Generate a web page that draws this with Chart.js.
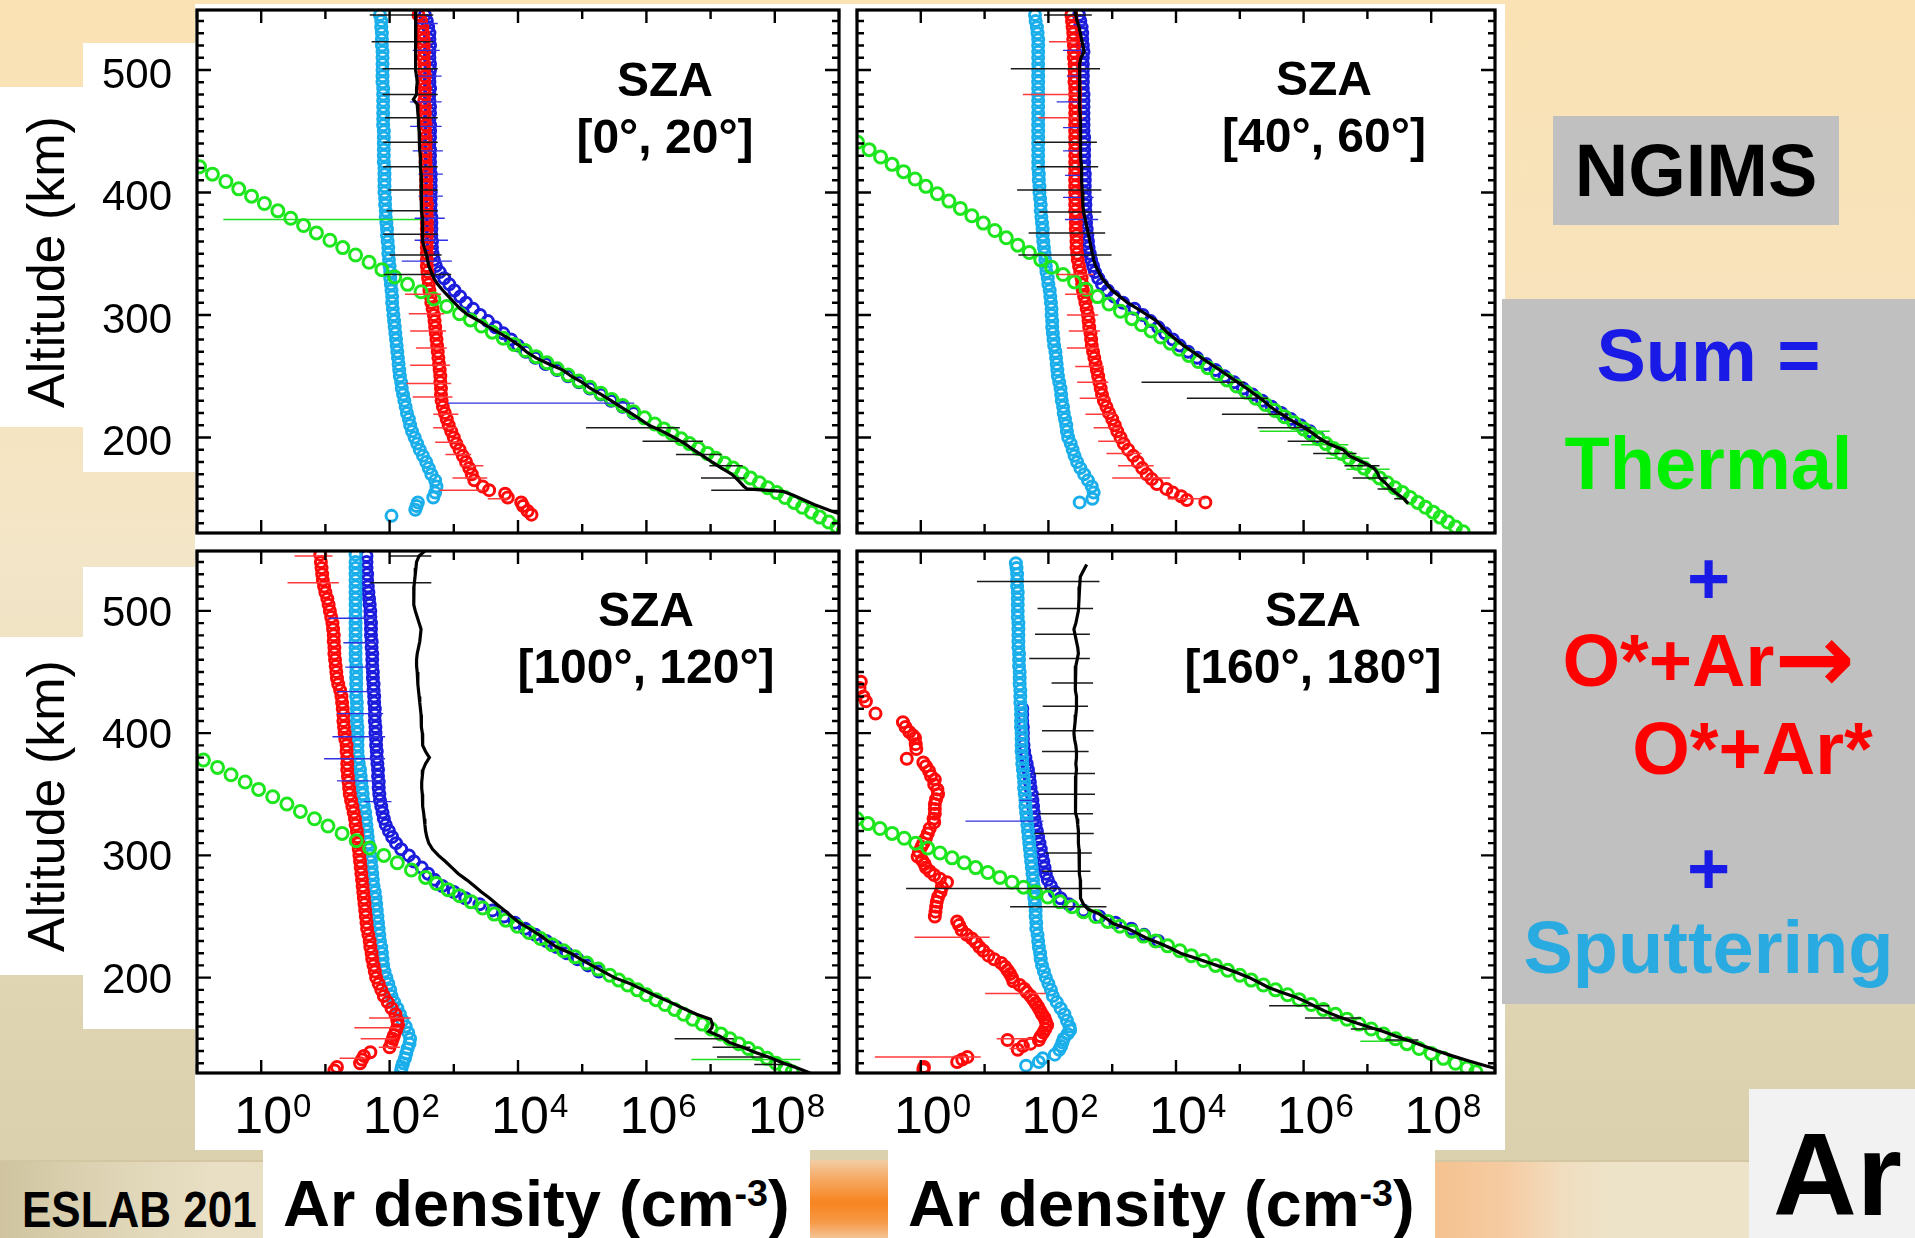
<!DOCTYPE html>
<html>
<head>
<meta charset="utf-8">
<script src="https://cdn.jsdelivr.net/npm/chart.js@4.4.1/dist/chart.umd.min.js"></script>
<style>
  body {
    margin: 0; width: 1915px; height: 1238px; overflow: hidden; position: relative;
    font-family: "Liberation Sans", Arial, sans-serif;
    background: linear-gradient(to bottom, #FAE2B4 0%, #F7E3BD 28%, #F3E6C8 45%, #EADFBF 62%, #DED4B2 82%, #D9CFAD 100%);
  }
  .box { position: absolute; }
  .white { background: #fff; }
  canvas { position: absolute; z-index: 2; }
  .txt { position: absolute; z-index: 3; white-space: nowrap; }
  .sza { width: 400px; text-align: center; font-weight: bold; font-size: 48px; line-height: 57px; color: #000; }
  .alt { width: 400px; height: 60px; line-height: 60px; text-align: center; font-size: 52px; transform: rotate(-90deg); }
  .leg { width: 413px; text-align: center; font-weight: bold; font-size: 74px; line-height: 80px; }
  .arrow { font-family: "DejaVu Sans", sans-serif; font-weight: bold; font-size: 96px; line-height: 0; vertical-align: -6px; }
  .dens { position: absolute; z-index: 4; background: #fff; width: 527px; height: 67px; padding: 21px 0 0 20px;
          white-space: nowrap; font-weight: bold; font-size: 65px; line-height: 65px; }
  .dens sup { font-size: 0.58em; vertical-align: 20px; line-height: 0; }
</style>
</head>
<body>

<!-- slide decoration -->
<div class="box" style="left:0;top:1160px;width:1749px;height:78px;background:linear-gradient(to right,#CFC49F 0%,#DCD2B2 5%,#E8DFC4 12%,#EADFC0 40%,#EEE4C8 80%,#ECE3C8 100%);border-top:2px solid #D2C7A2;"></div>
<div class="box" style="left:790px;top:1160px;width:120px;height:78px;background:linear-gradient(to bottom,#F2CDA5 0%,#F6A862 25%,#F7841F 55%,#F69A48 80%,#F3C497 100%);"></div>
<div class="box" style="left:1420px;top:1162px;width:190px;height:76px;background:linear-gradient(to right,#F4C08C 0%,#F6CBA2 45%,#F1DDBF 75%,rgba(236,227,200,0) 100%);"></div>
<div class="txt" style="left:22px;top:1185px;z-index:1;font-weight:bold;font-size:50px;line-height:50px;transform:scaleX(0.88);transform-origin:0 0;">ESLAB 201</div>

<div class="box white" style="left:195px;top:4px;width:1310px;height:1146px;"></div>
<div class="box white" style="left:83px;top:43px;width:116px;height:429px;"></div>
<div class="box white" style="left:0;top:87px;width:86px;height:340px;"></div>
<div class="box white" style="left:83px;top:567px;width:116px;height:462px;"></div>
<div class="box white" style="left:0;top:637px;width:86px;height:338px;"></div>
<div class="box" style="left:1553px;top:116px;width:286px;height:109px;background:#C0C0C0;"></div>
<div class="box" style="left:1502px;top:299px;width:413px;height:705px;background:#C0C0C0;"></div>
<div class="box" style="left:1749px;top:1089px;width:166px;height:149px;background:#F2F2F2;"></div>

<canvas id="p1" width="758" height="542" style="left:90px;top:0;"></canvas>
<canvas id="p2" width="656" height="542" style="left:848px;top:0;"></canvas>
<canvas id="p3" width="758" height="608" style="left:90px;top:542px;"></canvas>
<canvas id="p4" width="656" height="608" style="left:848px;top:542px;"></canvas>

<div class="txt alt" style="left:-154px;top:232px;">Altitude (km)</div>
<div class="txt alt" style="left:-154px;top:776px;">Altitude (km)</div>

<div class="txt sza" style="left:465px;top:51px;">SZA<br>[0°, 20°]</div>
<div class="txt sza" style="left:1124px;top:50px;">SZA<br>[40°, 60°]</div>
<div class="txt sza" style="left:446px;top:581px;">SZA<br>[100°, 120°]</div>
<div class="txt sza" style="left:1113px;top:581px;">SZA<br>[160°, 180°]</div>

<div class="txt" style="left:1553px;top:116px;width:286px;height:109px;line-height:109px;text-align:center;font-weight:bold;font-size:74px;">NGIMS</div>
<div class="txt leg" style="left:1502px;top:316px;color:#1A1AE6;">Sum =</div>
<div class="txt leg" style="left:1502px;top:424px;color:#00EE00;">Thermal</div>
<div class="txt leg" style="left:1502px;top:539px;color:#1A1AE6;">+</div>
<div class="txt leg" style="left:1502px;top:621px;color:#FF0000;">O*+Ar<span class="arrow">→</span></div>
<div class="txt leg" style="left:1546px;top:709px;color:#FF0000;">O*+Ar*</div>
<div class="txt leg" style="left:1502px;top:829px;color:#1A1AE6;">+</div>
<div class="txt leg" style="left:1502px;top:908px;color:#29ABE2;">Sputtering</div>

<div class="dens" style="left:263px;top:1150px;">Ar density (cm<sup>-3</sup>)</div>
<div class="dens" style="left:888px;top:1150px;">Ar density (cm<sup>-3</sup>)</div>
<div class="txt" style="left:1773px;top:1117px;font-weight:bold;font-size:116px;line-height:116px;">Ar</div>

<script>
// axes
const X_MIN = 1e-1, X_MAX = 1e9;
const Y_MIN = 122, Y_MAX = 549;
const X_DECADES = [-1, 0, 1, 2, 3, 4, 5, 6, 7, 8, 9];
const X_LABEL_EXP = [0, 2, 4, 6, 8];
const Y_LABELS = [200, 300, 400, 500];

// all series: [altitude km, log10 density cm^-3]; error bars: [altitude, log10 low, log10 high]

// ---- SZA 0-20
const p1Sum = [[545,2.55],[540,2.58],[535,2.60],[530,2.62],[525,2.62],[520,2.63],[515,2.62],[510,2.62],[505,2.63],[500,2.63],[495,2.62],[490,2.62],[485,2.63],[480,2.62],[475,2.62],[470,2.63],[465,2.63],[460,2.62],[455,2.63],[450,2.63],[445,2.63],[440,2.62],[435,2.63],[430,2.63],[425,2.63],[420,2.63],[415,2.64],[410,2.64],[405,2.64],[400,2.64],[395,2.64],[390,2.64],[385,2.64],[380,2.65],[375,2.65],[370,2.65],[365,2.65],[360,2.66],[355,2.66],[350,2.67],[345,2.69],[340,2.72],[335,2.78],[330,2.85],[325,2.93],[320,3.01],[315,3.10],[310,3.19],[305,3.30],[300,3.41],[295,3.53],[290,3.65],[285,3.77],[280,3.89],[275,4.00],[270,4.12],[265,4.27],[260,4.43],[255,4.61],[250,4.78],[245,4.95],[240,5.12],[235,5.29],[230,5.45],[225,5.63],[220,5.80]];
const p1Thermal = [[421,-0.96],[415,-0.76],[409,-0.55],[403,-0.35],[397,-0.15],[391,0.05],[385,0.26],[379,0.46],[373,0.66],[367,0.86],[361,1.07],[355,1.27],[349,1.47],[343,1.68],[337,1.88],[331,2.08],[325,2.28],[319,2.49],[313,2.69],[307,2.89],[301,3.09],[296,3.26],[291,3.43],[286,3.60],[281,3.77],[276,3.94],[271,4.11],[266,4.28],[261,4.45],[256,4.61],[251,4.78],[246,4.95],[241,5.12],[236,5.29],[231,5.46],[226,5.63],[221,5.80],[216,5.97],[211,6.13],[207,6.27],[203,6.40],[199,6.54],[195,6.67],[191,6.81],[187,6.95],[183,7.08],[179,7.22],[175,7.35],[171,7.49],[167,7.62],[163,7.76],[159,7.89],[155,8.03],[151,8.16],[147,8.30],[143,8.43],[139,8.57],[135,8.70],[131,8.84],[127,8.97],[124,9.07]];
const p1Hot = [[545,2.45],[540,2.49],[535,2.51],[530,2.52],[525,2.53],[520,2.53],[515,2.54],[510,2.53],[505,2.54],[500,2.54],[495,2.55],[490,2.54],[485,2.55],[480,2.55],[475,2.54],[470,2.55],[465,2.55],[460,2.55],[455,2.56],[450,2.55],[445,2.56],[440,2.56],[435,2.56],[430,2.56],[425,2.56],[420,2.57],[415,2.57],[410,2.57],[405,2.57],[400,2.57],[395,2.57],[390,2.58],[385,2.58],[380,2.58],[375,2.58],[370,2.58],[365,2.58],[360,2.58],[355,2.58],[350,2.58],[345,2.58],[340,2.58],[335,2.59],[330,2.60],[325,2.61],[320,2.62],[315,2.64],[310,2.65],[305,2.67],[300,2.69],[295,2.70],[290,2.71],[285,2.72],[280,2.73],[275,2.74],[270,2.75],[265,2.76],[260,2.77],[255,2.78],[250,2.79],[245,2.79],[240,2.80],[235,2.80],[230,2.81],[225,2.83],[220,2.86],[215,2.89],[210,2.92],[205,2.96],[200,3.00],[195,3.04],[190,3.09],[185,3.14],[180,3.19],[175,3.24],[170,3.28],[165,3.32],[160,3.45],[157,3.55],[154,3.80],[151,3.84],[147,4.05],[144,4.08],[140,4.15],[137,4.21]];
const p1Sputter = [[545,1.85],[540,1.87],[535,1.87],[530,1.88],[525,1.88],[520,1.88],[515,1.89],[510,1.89],[505,1.89],[500,1.89],[495,1.89],[490,1.89],[485,1.90],[480,1.90],[475,1.90],[470,1.90],[465,1.90],[460,1.90],[455,1.90],[450,1.91],[445,1.91],[440,1.91],[435,1.91],[430,1.91],[425,1.91],[420,1.92],[415,1.92],[410,1.92],[405,1.92],[400,1.92],[395,1.93],[390,1.93],[385,1.94],[380,1.94],[375,1.95],[370,1.96],[365,1.96],[360,1.97],[355,1.98],[350,1.98],[345,1.99],[340,2.00],[335,2.01],[330,2.01],[325,2.02],[320,2.03],[315,2.04],[310,2.04],[305,2.05],[300,2.06],[295,2.07],[290,2.08],[285,2.09],[280,2.10],[275,2.11],[270,2.12],[265,2.13],[260,2.14],[255,2.15],[250,2.16],[245,2.18],[240,2.19],[235,2.21],[230,2.23],[225,2.25],[220,2.27],[215,2.30],[210,2.32],[205,2.35],[200,2.39],[195,2.43],[190,2.47],[185,2.52],[180,2.57],[175,2.61],[170,2.65],[165,2.71],[160,2.73],[155,2.71],[151,2.68],[147,2.44],[144,2.42],[141,2.40],[136,2.03]];
const p1Ngims = [[549,2.41],[545,2.41],[540,2.41],[535,2.40],[530,2.40],[525,2.40],[520,2.41],[515,2.40],[510,2.40],[505,2.41],[500,2.41],[495,2.42],[490,2.43],[485,2.42],[480,2.42],[476,2.37],[472,2.43],[465,2.44],[460,2.45],[455,2.45],[450,2.46],[445,2.46],[440,2.47],[435,2.47],[430,2.48],[425,2.48],[420,2.48],[415,2.49],[410,2.49],[405,2.49],[400,2.49],[395,2.50],[390,2.50],[385,2.50],[380,2.51],[375,2.51],[370,2.51],[365,2.52],[360,2.52],[355,2.54],[350,2.57],[345,2.59],[340,2.61],[335,2.65],[330,2.69],[325,2.75],[320,2.83],[315,2.92],[310,3.01],[305,3.10],[300,3.22],[295,3.40],[290,3.55],[285,3.72],[280,3.88],[275,4.02],[270,4.13],[265,4.28],[260,4.48],[255,4.70],[250,4.83],[245,5.00],[240,5.13],[235,5.30],[230,5.45],[225,5.60],[220,5.75],[215,5.90],[210,6.04],[205,6.25],[200,6.43],[195,6.60],[190,6.73],[185,6.88],[180,7.02],[175,7.17],[170,7.33],[165,7.43],[160,7.52],[158,7.57],[156,8.12],[153,8.28],[150,8.41],[145,8.62],[140,8.88],[137,9.05]];
const p1NgimsErr = [[545,1.69,2.68],[523,1.72,2.68],[501,1.89,2.75],[480,1.89,2.75],[461,1.93,2.75],[441,1.90,2.75],[421,1.90,2.75],[402,1.98,2.75],[385,1.95,2.75],[366,1.90,2.75],[349,2.00,2.81],[333,1.91,2.96],[208,5.06,6.52],[197,5.94,6.88],[186,6.46,7.17],[177,6.98,7.50],[167,6.85,7.53],[157,7.01,7.66]];
const p1SumErr = [[538,2.39,2.75],[516,2.36,2.78],[495,2.39,2.81],[474,2.32,2.81],[454,2.32,2.81],[434,2.36,2.83],[415,2.45,2.83],[397,2.45,2.83],[379,2.39,2.86],[361,2.39,2.91],[344,2.19,2.97],[228,2.91,5.81]];
const p1HotErr = [[317,2.24,2.80],[301,2.30,2.85],[287,2.32,2.88],[273,2.41,2.89],[259,2.32,2.94],[244,2.26,2.96],[233,2.36,2.98],[219,2.68,3.07],[208,2.68,3.04],[196,2.71,3.14],[186,2.87,3.27],[177,3.11,3.46],[167,2.98,3.52],[157,2.78,3.46],[150,3.53,3.85]];
const p1ThermalErr = [[378,-0.59,2.52]];

// ---- SZA 40-60
const p2Sum = [[545,2.48],[540,2.50],[535,2.52],[530,2.53],[525,2.53],[520,2.54],[515,2.55],[510,2.54],[505,2.54],[500,2.54],[495,2.54],[490,2.54],[485,2.54],[480,2.55],[475,2.55],[470,2.55],[465,2.55],[460,2.55],[455,2.55],[450,2.55],[445,2.56],[440,2.56],[435,2.56],[430,2.56],[425,2.56],[420,2.56],[415,2.57],[410,2.57],[405,2.57],[400,2.57],[395,2.58],[390,2.58],[385,2.58],[380,2.59],[375,2.59],[370,2.60],[365,2.61],[360,2.62],[355,2.63],[350,2.65],[345,2.67],[340,2.70],[335,2.73],[330,2.78],[325,2.84],[320,2.93],[315,3.03],[310,3.17],[305,3.35],[300,3.48],[295,3.60],[290,3.72],[285,3.83],[280,3.95],[275,4.06],[270,4.19],[265,4.33],[260,4.47],[255,4.62],[250,4.76],[245,4.91],[240,5.05],[235,5.20],[230,5.35],[225,5.50],[220,5.65],[215,5.80],[210,5.95],[205,6.10],[200,6.23]];
const p2Thermal = [[441,-0.99],[435,-0.81],[429,-0.63],[423,-0.45],[417,-0.27],[411,-0.09],[405,0.08],[399,0.26],[393,0.44],[387,0.62],[381,0.80],[375,0.98],[369,1.16],[363,1.34],[357,1.52],[351,1.70],[345,1.88],[339,2.05],[333,2.23],[327,2.41],[321,2.59],[315,2.77],[309,2.95],[303,3.13],[297,3.31],[292,3.46],[287,3.61],[282,3.76],[277,3.91],[272,4.05],[267,4.20],[262,4.35],[257,4.50],[252,4.65],[247,4.80],[242,4.95],[237,5.10],[232,5.25],[227,5.40],[222,5.55],[217,5.70],[212,5.85],[207,6.00],[203,6.11],[199,6.23],[195,6.35],[191,6.47],[187,6.59],[183,6.71],[179,6.83],[175,6.95],[171,7.07],[167,7.19],[163,7.31],[159,7.43],[155,7.55],[151,7.67],[147,7.79],[143,7.91],[139,8.03],[135,8.14],[131,8.26],[127,8.38],[123,8.50]];
const p2Hot = [[545,2.36],[540,2.37],[535,2.38],[530,2.39],[525,2.39],[520,2.40],[515,2.40],[510,2.40],[505,2.41],[500,2.41],[495,2.41],[490,2.41],[485,2.42],[480,2.42],[475,2.42],[470,2.42],[465,2.42],[460,2.42],[455,2.42],[450,2.42],[445,2.42],[440,2.42],[435,2.42],[430,2.42],[425,2.42],[420,2.42],[415,2.42],[410,2.42],[405,2.42],[400,2.42],[395,2.42],[390,2.42],[385,2.42],[380,2.43],[375,2.43],[370,2.43],[365,2.44],[360,2.44],[355,2.44],[350,2.45],[345,2.46],[340,2.48],[335,2.50],[330,2.52],[325,2.53],[320,2.54],[315,2.56],[310,2.58],[305,2.60],[300,2.62],[295,2.63],[290,2.64],[285,2.66],[280,2.67],[275,2.68],[270,2.70],[265,2.72],[260,2.74],[255,2.76],[250,2.78],[245,2.80],[240,2.82],[235,2.84],[230,2.87],[225,2.91],[220,2.95],[215,3.00],[210,3.04],[205,3.08],[200,3.13],[195,3.18],[190,3.25],[185,3.33],[180,3.40],[175,3.47],[170,3.54],[166,3.62],[162,3.70],[158,3.85],[155,3.95],[152,4.08],[149,4.17],[147,4.46]];
const p2Sputter = [[545,1.79],[540,1.80],[535,1.82],[530,1.83],[525,1.84],[520,1.84],[515,1.84],[510,1.84],[505,1.84],[500,1.84],[495,1.84],[490,1.84],[485,1.84],[480,1.84],[475,1.84],[470,1.84],[465,1.84],[460,1.84],[455,1.84],[450,1.84],[445,1.84],[440,1.84],[435,1.84],[430,1.84],[425,1.84],[420,1.84],[415,1.85],[410,1.85],[405,1.86],[400,1.86],[395,1.87],[390,1.88],[385,1.88],[380,1.89],[375,1.90],[370,1.91],[365,1.91],[360,1.92],[355,1.93],[350,1.94],[345,1.95],[340,1.96],[335,1.97],[330,1.99],[325,2.00],[320,2.02],[315,2.03],[310,2.04],[305,2.05],[300,2.05],[295,2.06],[290,2.06],[285,2.07],[280,2.08],[275,2.09],[270,2.11],[265,2.12],[260,2.13],[255,2.14],[250,2.15],[245,2.17],[240,2.19],[235,2.20],[230,2.21],[225,2.23],[220,2.24],[215,2.26],[210,2.28],[205,2.29],[200,2.31],[195,2.35],[190,2.38],[185,2.41],[180,2.45],[175,2.50],[170,2.56],[165,2.62],[160,2.68],[155,2.71],[150,2.69],[147,2.49]];
const p2Ngims = [[549,2.42],[545,2.43],[540,2.45],[535,2.48],[530,2.50],[525,2.52],[520,2.54],[515,2.56],[510,2.51],[505,2.49],[500,2.49],[490,2.49],[480,2.49],[470,2.49],[460,2.50],[450,2.50],[440,2.50],[430,2.51],[420,2.52],[410,2.52],[400,2.53],[390,2.54],[385,2.55],[380,2.57],[375,2.59],[370,2.61],[365,2.63],[360,2.65],[355,2.67],[350,2.69],[345,2.71],[340,2.74],[335,2.79],[330,2.84],[325,2.92],[320,3.00],[315,3.12],[310,3.24],[305,3.40],[300,3.55],[295,3.70],[290,3.78],[285,3.88],[280,4.00],[275,4.12],[270,4.26],[265,4.40],[260,4.54],[255,4.69],[250,4.83],[245,4.97],[240,5.11],[235,5.24],[230,5.37],[225,5.48],[220,5.62],[215,5.77],[210,5.95],[205,6.10],[200,6.23],[195,6.38],[190,6.62],[185,6.72],[180,6.92],[175,7.10],[171,7.16],[167,7.19],[163,7.28],[159,7.35],[155,7.44],[150,7.57],[146,7.64]];
const p2NgimsErr = [[545,1.93,2.68],[501,1.41,2.81],[441,1.77,2.76],[421,1.82,2.78],[402,1.51,2.83],[384,1.86,2.83],[367,1.69,2.89],[349,1.53,2.99],[245,3.46,5.08],[232,4.17,5.44],[219,4.72,5.76],[208,5.28,6.12],[197,5.75,6.41],[187,6.15,6.83],[177,6.64,7.19],[167,6.77,7.32],[158,7.16,7.45],[150,7.42,7.61]];
const p2SumErr = [[537,2.39,2.62],[516,2.23,2.62],[495,2.29,2.59],[474,2.13,2.62],[453,2.23,2.62],[434,2.23,2.62],[414,2.26,2.65],[396,2.23,2.71],[378,2.26,2.78]];
const p2HotErr = [[523,2.01,2.44],[480,1.60,2.52],[461,1.84,2.55],[333,2.13,2.71],[317,2.26,2.68],[300,2.29,2.78],[287,2.32,2.81],[273,2.29,2.78],[258,2.42,2.87],[245,2.45,2.94],[232,2.49,2.96],[219,2.58,3.04],[208,2.71,3.13],[197,2.78,3.23],[187,2.91,3.46],[177,3.09,3.65],[167,3.00,3.91],[150,3.87,4.46]];
const p2ThermalErr = [[205,5.31,6.41],[194,5.96,6.70],[183,6.35,7.03],[174,6.67,7.35]];

// ---- SZA 100-120
const p3Sum = [[545,1.64],[540,1.64],[535,1.64],[530,1.65],[525,1.65],[520,1.66],[515,1.67],[510,1.68],[505,1.69],[500,1.70],[495,1.70],[490,1.71],[485,1.71],[480,1.71],[475,1.72],[470,1.72],[465,1.73],[460,1.73],[455,1.73],[450,1.74],[445,1.74],[440,1.75],[435,1.75],[430,1.76],[425,1.76],[420,1.77],[415,1.77],[410,1.77],[405,1.78],[400,1.78],[395,1.79],[390,1.79],[385,1.80],[380,1.80],[375,1.81],[370,1.82],[365,1.82],[360,1.83],[355,1.83],[350,1.84],[345,1.85],[340,1.87],[335,1.89],[330,1.91],[325,1.94],[320,1.99],[315,2.04],[310,2.10],[305,2.18],[300,2.30],[295,2.38],[290,2.50],[285,2.60],[280,2.70],[275,2.82],[270,3.00],[265,3.18],[260,3.40],[255,3.60],[250,3.78],[245,3.95],[240,4.11],[235,4.27],[230,4.44],[225,4.60],[220,4.76],[215,4.93],[210,5.09],[205,5.26]];
const p3Thermal = [[378,-0.90],[372,-0.68],[366,-0.47],[360,-0.25],[354,-0.04],[348,0.18],[342,0.40],[336,0.61],[330,0.83],[324,1.04],[318,1.26],[312,1.48],[306,1.69],[300,1.91],[294,2.12],[288,2.34],[282,2.56],[277,2.73],[272,2.91],[267,3.09],[262,3.27],[257,3.45],[252,3.63],[247,3.81],[242,3.99],[237,4.17],[232,4.35],[227,4.53],[222,4.71],[217,4.89],[212,5.07],[207,5.25],[202,5.43],[198,5.57],[194,5.71],[190,5.86],[186,6.00],[182,6.15],[178,6.29],[174,6.44],[170,6.58],[166,6.72],[162,6.87],[158,7.01],[154,7.16],[150,7.30],[146,7.44],[142,7.59],[138,7.73],[134,7.88],[130,8.02],[126,8.16],[123,8.27]];
const p3Hot = [[546,0.92],[540,0.93],[535,0.94],[530,0.95],[525,0.96],[520,0.98],[515,1.00],[510,1.03],[505,1.05],[500,1.07],[495,1.09],[490,1.11],[485,1.12],[480,1.13],[475,1.13],[470,1.14],[465,1.14],[460,1.15],[455,1.16],[450,1.17],[445,1.18],[440,1.20],[435,1.23],[430,1.25],[425,1.26],[420,1.27],[415,1.28],[410,1.28],[405,1.29],[400,1.30],[395,1.31],[390,1.33],[385,1.33],[380,1.34],[375,1.34],[370,1.34],[365,1.35],[360,1.36],[355,1.37],[350,1.38],[345,1.40],[340,1.42],[335,1.44],[330,1.46],[325,1.47],[320,1.49],[315,1.50],[310,1.51],[305,1.52],[300,1.53],[295,1.54],[290,1.55],[285,1.56],[280,1.57],[275,1.58],[270,1.59],[265,1.60],[260,1.61],[255,1.62],[250,1.63],[245,1.64],[240,1.65],[235,1.67],[230,1.69],[225,1.70],[220,1.72],[215,1.73],[210,1.75],[205,1.77],[200,1.79],[195,1.83],[190,1.87],[185,1.91],[180,1.97],[175,2.03],[170,2.09],[165,2.12],[161,2.13],[157,2.10],[153,2.07],[150,2.05],[147,2.03],[143,2.00],[139,1.70],[136,1.60],[133,1.57],[130,1.54],[127,1.18],[124,1.14]];
const p3Sputter = [[546,1.47],[540,1.47],[535,1.47],[530,1.47],[525,1.47],[520,1.47],[515,1.47],[510,1.47],[505,1.47],[500,1.47],[495,1.47],[490,1.47],[485,1.47],[480,1.47],[475,1.47],[470,1.47],[465,1.47],[460,1.47],[455,1.48],[450,1.48],[445,1.48],[440,1.48],[435,1.48],[430,1.48],[425,1.49],[420,1.49],[415,1.49],[410,1.49],[405,1.50],[400,1.50],[395,1.50],[390,1.50],[385,1.50],[380,1.51],[375,1.52],[370,1.54],[365,1.55],[360,1.56],[355,1.57],[350,1.58],[345,1.59],[340,1.60],[335,1.62],[330,1.63],[325,1.64],[320,1.65],[315,1.66],[310,1.67],[305,1.68],[300,1.70],[295,1.71],[290,1.72],[285,1.73],[280,1.74],[275,1.75],[270,1.77],[265,1.78],[260,1.79],[255,1.80],[250,1.81],[245,1.82],[240,1.83],[235,1.84],[230,1.85],[225,1.87],[220,1.88],[215,1.89],[210,1.90],[205,1.92],[200,1.95],[195,1.98],[190,2.01],[185,2.03],[180,2.07],[175,2.12],[170,2.16],[165,2.20],[160,2.25],[155,2.29],[150,2.32],[146,2.31],[142,2.28],[138,2.26],[134,2.24],[130,2.21],[127,2.19],[124,2.18]];
const p3Ngims = [[549,2.55],[545,2.46],[540,2.42],[535,2.41],[530,2.40],[525,2.39],[520,2.38],[515,2.38],[510,2.37],[505,2.38],[500,2.40],[495,2.43],[490,2.46],[485,2.49],[480,2.48],[475,2.47],[470,2.45],[465,2.43],[460,2.42],[455,2.42],[450,2.43],[445,2.44],[440,2.44],[435,2.45],[430,2.46],[425,2.47],[420,2.48],[415,2.49],[410,2.49],[405,2.50],[400,2.51],[395,2.51],[390,2.52],[385,2.56],[380,2.62],[375,2.56],[370,2.52],[365,2.51],[360,2.50],[355,2.50],[350,2.51],[345,2.51],[340,2.52],[335,2.53],[330,2.54],[325,2.55],[320,2.56],[315,2.58],[310,2.61],[305,2.67],[300,2.76],[295,2.87],[290,2.97],[285,3.07],[280,3.20],[275,3.32],[270,3.43],[265,3.56],[260,3.67],[255,3.79],[250,3.90],[245,4.02],[240,4.18],[235,4.33],[230,4.46],[225,4.60],[220,4.82],[215,4.98],[210,5.15],[205,5.33],[200,5.50],[195,5.75],[190,5.95],[185,6.15],[180,6.37],[175,6.57],[170,6.78],[166,7.00],[162,7.03],[159,7.02],[156,6.97],[152,7.15],[147,7.29],[143,7.50],[139,7.69],[135,7.90],[130,8.14],[126,8.35],[122,8.55]];
const p3NgimsErr = [[545,1.99,2.65],[523,1.70,2.65],[150,6.44,7.36],[143,7.03,7.62],[135,7.10,7.88],[129,7.68,8.27]];
const p3SumErr = [[494,1.05,1.80],[474,1.28,1.83],[454,1.31,1.83],[434,1.18,1.86],[416,1.18,1.90],[397,1.11,1.93],[379,0.98,1.93],[361,1.18,1.94],[344,1.60,2.03]];
const p3HotErr = [[545,0.52,1.11],[523,0.41,1.21],[167,1.68,2.33],[159,1.45,2.16],[150,1.55,2.09],[143,1.83,2.16],[134,1.22,1.64]];
const p3ThermalErr = [[133,6.70,8.40]];

// ---- SZA 160-180
const p4Sum = [[420,1.59],[415,1.59],[410,1.59],[405,1.60],[400,1.60],[395,1.60],[390,1.61],[385,1.62],[380,1.64],[375,1.66],[370,1.68],[365,1.70],[360,1.71],[355,1.72],[350,1.74],[345,1.75],[340,1.76],[335,1.77],[330,1.78],[325,1.80],[320,1.82],[315,1.84],[310,1.86],[305,1.88],[300,1.90],[295,1.92],[290,1.94],[285,1.96],[280,1.99],[275,2.04],[270,2.10],[265,2.19],[260,2.32],[255,2.55],[250,2.80],[245,3.05],[240,3.30],[235,3.50],[230,3.72]];
const p4Thermal = [[330,-1.00],[326,-0.83],[322,-0.64],[318,-0.45],[314,-0.26],[310,-0.08],[306,0.11],[302,0.30],[298,0.49],[294,0.68],[290,0.86],[286,1.05],[282,1.24],[278,1.43],[274,1.61],[270,1.80],[266,1.99],[262,2.18],[258,2.37],[254,2.55],[250,2.74],[246,2.93],[242,3.12],[238,3.31],[234,3.49],[230,3.68],[226,3.87],[222,4.06],[218,4.24],[214,4.43],[210,4.62],[206,4.81],[202,5.00],[198,5.18],[194,5.37],[190,5.56],[186,5.75],[182,5.93],[178,6.12],[174,6.31],[170,6.50],[166,6.68],[162,6.87],[158,7.06],[154,7.25],[150,7.44],[146,7.62],[142,7.81],[138,8.00],[134,8.19],[130,8.38],[126,8.56],[123,8.70]];
const p4Hot = [[442,-0.94],[437,-0.96],[430,-0.90],[426,-0.86],[416,-0.71],[409,-0.28],[405,-0.24],[401,-0.18],[398,-0.12],[396,-0.09],[391,-0.08],[387,-0.07],[379,-0.22],[376,0.04],[373,0.08],[369,0.13],[365,0.16],[362,0.22],[358,0.21],[354,0.26],[350,0.27],[346,0.24],[342,0.22],[338,0.22],[334,0.22],[330,0.20],[327,0.21],[322,0.14],[318,0.11],[314,0.08],[310,0.04],[307,0.01],[303,-0.03],[299,-0.05],[296,0.02],[293,0.06],[290,0.08],[287,0.14],[284,0.21],[281,0.30],[278,0.41],[274,0.33],[270,0.31],[266,0.27],[262,0.25],[258,0.24],[254,0.23],[250,0.22],[246,0.57],[243,0.60],[239,0.64],[235,0.72],[232,0.80],[229,0.86],[225,0.92],[222,0.98],[218,1.06],[215,1.15],[212,1.26],[209,1.32],[206,1.36],[203,1.40],[200,1.43],[197,1.45],[194,1.55],[191,1.62],[188,1.66],[185,1.72],[182,1.76],[179,1.80],[176,1.84],[173,1.87],[170,1.90],[167,1.94],[164,1.96],[161,1.98],[158,1.95],[155,1.92],[152,1.88],[149,1.85],[149,1.36],[146,1.72],[144,1.60],[141,1.52],[135,0.73],[133,0.65],[131,0.57],[127,0.05],[125,0.04]];
const p4Sputter = [[539,1.49],[535,1.50],[530,1.51],[525,1.51],[520,1.51],[515,1.52],[510,1.52],[505,1.52],[500,1.52],[495,1.52],[490,1.53],[485,1.53],[480,1.53],[475,1.53],[470,1.53],[465,1.54],[460,1.54],[455,1.54],[450,1.55],[445,1.55],[440,1.55],[435,1.56],[430,1.56],[425,1.56],[420,1.57],[415,1.57],[410,1.57],[405,1.57],[400,1.58],[395,1.58],[390,1.58],[385,1.58],[380,1.59],[375,1.59],[370,1.60],[365,1.61],[360,1.62],[355,1.62],[350,1.63],[345,1.64],[340,1.64],[335,1.65],[330,1.66],[325,1.67],[320,1.68],[315,1.69],[310,1.70],[305,1.71],[300,1.72],[295,1.73],[290,1.74],[285,1.75],[280,1.76],[275,1.77],[270,1.77],[265,1.78],[260,1.79],[255,1.80],[250,1.80],[245,1.81],[240,1.81],[235,1.83],[230,1.84],[225,1.85],[220,1.87],[215,1.88],[210,1.90],[205,1.93],[200,1.96],[195,2.00],[190,2.04],[185,2.07],[180,2.13],[175,2.19],[170,2.25],[165,2.29],[160,2.33],[157,2.34],[154,2.30],[150,2.24],[147,2.22],[144,2.20],[141,2.17],[137,2.10],[134,1.91],[131,1.85],[128,1.65]];
const p4Ngims = [[538,2.60],[533,2.55],[528,2.50],[520,2.49],[510,2.48],[500,2.47],[495,2.45],[490,2.43],[485,2.40],[480,2.42],[475,2.44],[470,2.46],[465,2.47],[460,2.45],[455,2.43],[450,2.42],[445,2.42],[440,2.42],[435,2.43],[430,2.44],[425,2.44],[420,2.44],[415,2.43],[410,2.42],[405,2.41],[400,2.40],[395,2.41],[390,2.43],[385,2.44],[380,2.44],[375,2.43],[370,2.44],[365,2.43],[360,2.42],[355,2.42],[350,2.43],[345,2.43],[340,2.42],[335,2.43],[330,2.45],[325,2.46],[320,2.47],[315,2.47],[310,2.47],[305,2.48],[300,2.48],[295,2.48],[290,2.49],[285,2.49],[280,2.50],[275,2.50],[270,2.50],[265,2.51],[260,2.55],[256,2.62],[252,2.80],[248,2.92],[244,3.02],[240,3.25],[236,3.40],[232,3.55],[228,3.75],[224,3.92],[220,4.07],[216,4.30],[212,4.53],[208,4.75],[204,4.96],[200,5.15],[196,5.30],[192,5.45],[188,5.65],[184,5.88],[180,6.05],[176,6.20],[172,6.36],[168,6.55],[164,6.77],[160,7.00],[156,7.25],[152,7.45],[148,7.68],[144,7.88],[140,8.10],[136,8.33],[132,8.58],[128,8.85],[125,9.05]];
const p4NgimsErr = [[524,0.88,2.80],[502,1.83,2.70],[481,1.79,2.65],[461,1.70,2.65],[441,2.05,2.70],[422,1.91,2.62],[402,1.90,2.71],[385,1.90,2.63],[367,1.78,2.73],[350,1.83,2.73],[334,1.85,2.70],[318,1.78,2.71],[302,1.96,2.68],[287,1.90,2.66],[273,-0.23,2.82],[258,1.40,2.91],[177,5.46,6.40],[167,6.02,6.90],[158,6.74,7.23],[149,7.28,7.80]];
const p4SumErr = [[345,1.55,1.81],[328,0.70,1.92]];
const p4HotErr = [[233,-0.10,1.08],[187,1.01,1.96],[150,1.19,1.75],[142,1.39,1.72],[135,-0.72,0.94]];
const p4ThermalErr = [[148,6.89,7.80]];

const BLUE = '#1C1CDC', GREEN = '#1EE61E', RED = '#FF0A0A', CYAN = '#1AAEEA', BLACK = '#000000';

const toXY = arr => arr.map(([a, v]) => ({ x: Math.pow(10, v), y: a }));
const toBars = arr => arr.flatMap(([a, lo, hi]) => [
  { x: Math.pow(10, lo), y: a }, { x: Math.pow(10, hi), y: a }, { x: null, y: null }
]);

function circles(arr, color, order, r, w) {
  return {
    data: toXY(arr), showLine: false, order: order, clip: 0,
    pointStyle: 'circle', pointRadius: r, pointBorderWidth: w,
    borderColor: color, pointBorderColor: color,
    backgroundColor: 'rgba(0,0,0,0)', pointBackgroundColor: 'rgba(0,0,0,0)'
  };
}
function profile(arr, color, order) {
  return { data: toXY(arr), showLine: true, order: order, clip: 0, pointRadius: 0,
    borderColor: color, borderWidth: 3.2, tension: 0 };
}
function bars(arr, color, order, w) {
  return { data: toBars(arr), showLine: true, spanGaps: false, order: order, clip: 0,
    pointRadius: 0, borderColor: color, borderWidth: w, tension: 0 };
}

// frame, inward ticks and tick labels, placed with the chart's own scales
const frameTicks = {
  id: 'frameTicks',
  afterDraw(chart, args, o) {
    const { ctx, chartArea: a, scales: { x, y } } = chart;
    ctx.save();
    ctx.strokeStyle = '#000';
    ctx.lineWidth = 2.4;
    ctx.beginPath();
    X_DECADES.forEach(e => {
      const px = x.getPixelForValue(Math.pow(10, e));
      const len = e % 2 === 0 ? 13 : 9;
      ctx.moveTo(px, a.bottom); ctx.lineTo(px, a.bottom - len);
      ctx.moveTo(px, a.top); ctx.lineTo(px, a.top + len);
    });
    for (let v = 130; v <= 540; v += 10) {
      const py = y.getPixelForValue(v);
      const len = v % 100 === 0 ? 14 : 7;
      ctx.moveTo(a.left, py); ctx.lineTo(a.left + len, py);
      ctx.moveTo(a.right, py); ctx.lineTo(a.right - len, py);
    }
    ctx.stroke();
    ctx.lineWidth = 3.2;
    ctx.strokeRect(a.left, a.top, a.right - a.left, a.bottom - a.top);

    ctx.fillStyle = '#000';
    if (o.yLabels) {
      ctx.font = '42px "Liberation Sans", Arial, sans-serif';
      ctx.textAlign = 'right';
      ctx.textBaseline = 'alphabetic';
      Y_LABELS.forEach(v => {
        const py = y.getPixelForValue(v) + o.shift;
        ctx.fillText(String(v), a.left - 25, py + 15);
      });
    }
    if (o.xLabels) {
      ctx.textBaseline = 'alphabetic';
      ctx.textAlign = 'left';
      X_LABEL_EXP.forEach(e => {
        const px = x.getPixelForValue(Math.pow(10, e)) + 2;
        ctx.font = '52px "Liberation Sans", Arial, sans-serif';
        const w = ctx.measureText('10').width;
        ctx.fillText('10', px - w / 2, a.bottom + 60);
        ctx.font = '33px "Liberation Sans", Arial, sans-serif';
        ctx.fillText(String(e), px + w / 2 + 1, a.bottom + 44);
      });
    }
    ctx.restore();
  }
};

function makePanel(id, pad, labels, s) {
  new Chart(document.getElementById(id), {
    type: 'scatter',
    data: {
      datasets: [
        profile(s.ngims, BLACK, 0),
        bars(s.ngimsErr, '#1a1a1a', 1, 1.5),
        bars(s.sumErr, '#3030E0', 1, 1.4),
        bars(s.hotErr, '#FF3A3A', 1, 1.5),
        bars(s.thermalErr, '#22DD22', 1, 1.5),
        circles(s.thermal, GREEN, 2, 6, 3),
        circles(s.hot, RED, 3, 5.5, 3),
        circles(s.sputter, CYAN, 4, 5.5, 3),
        circles(s.sum, BLUE, 5, 5.5, 3)
      ]
    },
    options: {
      responsive: false,
      animation: false,
      devicePixelRatio: 1,
      layout: { padding: pad },
      scales: {
        x: { type: 'logarithmic', min: X_MIN, max: X_MAX, display: false },
        y: { type: 'linear', min: Y_MIN, max: Y_MAX, display: false }
      },
      plugins: {
        legend: { display: false },
        tooltip: { enabled: false },
        frameTicks: labels
      }
    },
    plugins: [frameTicks]
  });
}

makePanel('p1', { left: 107, top: 10, right: 3, bottom: 5 }, { yLabels: true, xLabels: false, shift: 3 },
  { sum: p1Sum, thermal: p1Thermal, hot: p1Hot, sputter: p1Sputter, ngims: p1Ngims,
    ngimsErr: p1NgimsErr, sumErr: p1SumErr, hotErr: p1HotErr, thermalErr: p1ThermalErr });
makePanel('p2', { left: 3, top: 10, right: 4, bottom: 5 }, { yLabels: false, xLabels: false, shift: 0 },
  { sum: p2Sum, thermal: p2Thermal, hot: p2Hot, sputter: p2Sputter, ngims: p2Ngims,
    ngimsErr: p2NgimsErr, sumErr: p2SumErr, hotErr: p2HotErr, thermalErr: p2ThermalErr });
makePanel('p3', { left: 107, top: 5, right: 3, bottom: 77 }, { yLabels: true, xLabels: true, shift: 0 },
  { sum: p3Sum, thermal: p3Thermal, hot: p3Hot, sputter: p3Sputter, ngims: p3Ngims,
    ngimsErr: p3NgimsErr, sumErr: p3SumErr, hotErr: p3HotErr, thermalErr: p3ThermalErr });
makePanel('p4', { left: 3, top: 5, right: 4, bottom: 77 }, { yLabels: false, xLabels: true, shift: 0 },
  { sum: p4Sum, thermal: p4Thermal, hot: p4Hot, sputter: p4Sputter, ngims: p4Ngims,
    ngimsErr: p4NgimsErr, sumErr: p4SumErr, hotErr: p4HotErr, thermalErr: p4ThermalErr });
</script>
</body>
</html>
